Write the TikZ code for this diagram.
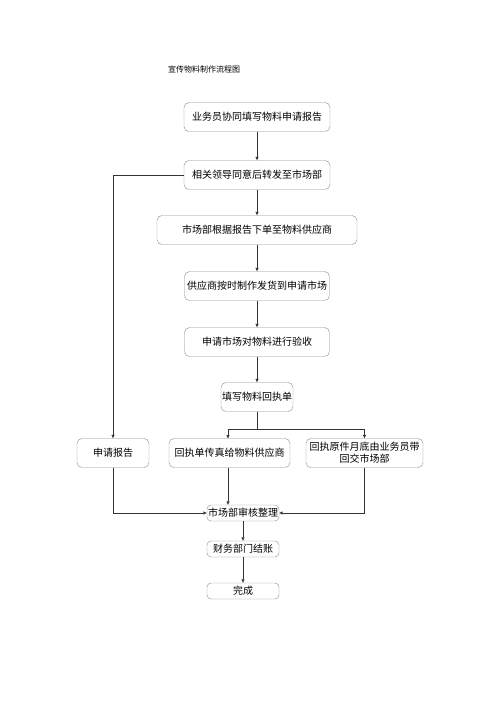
\documentclass[tikz,border=0pt]{standalone}
\usepackage{fontspec}
\setmainfont{Liberation Serif}
\newfontfamily\cjk{Noto Sans CJK SC}
\usetikzlibrary{arrows.meta,positioning,calc}
\tikzset{
>={Triangle[length=3.5pt,width=3pt]},
  stepbox/.style={
    rectangle,
    rounded corners=5pt,
    draw=black!45, thin,
    fill=white,
    font=\cjk\fontsize{10}{12}\selectfont,
    text centered,
    inner sep=1pt},
  bigbox/.style={stepbox, minimum height=29pt},
  smallbox/.style={stepbox, minimum height=16pt, minimum width=72pt, rounded corners=4pt},
  line/.style={draw=black!80, line width=0.6pt, ->},
}
\begin{document}
\begin{tikzpicture}[x=1pt,y=-1pt]
	\useasboundingbox (0,0) rectangle (500,707);
	\node[font=\cjk\fontsize{8}{10}\selectfont] (title) at (204,69) {宣传物料制作流程图};

	% main column
	\node[bigbox, minimum width=146pt] (apply) at (257,117) {业务员协同填写物料申请报告};
	\node[bigbox, minimum width=146pt] (agree) at (257,175) {相关领导同意后转发至市场部};
	\node[bigbox, minimum width=200pt] (order) at (257,230) {市场部根据报告下单至物料供应商};
	\node[bigbox, minimum width=145pt] (ship) at (257,286) {供应商按时制作发货到申请市场};
	\node[bigbox, minimum width=145pt] (check) at (257,342) {申请市场对物料进行验收};
	\node[bigbox, minimum width=72pt] (receipt) at (257,397) {填写物料回执单};

	% branches
	\node[bigbox, minimum width=72pt] (report) at (113,453) {申请报告};
	\node[bigbox, minimum width=121pt] (fax) at (229.5,453) {回执单传真给物料供应商};
	\node[bigbox, minimum width=117pt, text width=113pt, align=center] (orig) at (364.5,453) {回执原件月底由业务员带\\回交市场部};

	% bottom
	\node[smallbox] (audit) at (243,513) {市场部审核整理};
	\node[smallbox] (finance) at (243,549) {财务部门结账};
	\node[smallbox] (done) at (243,591) {完成};

	\path[line] (apply) -- (agree);
	\path[line] (agree) -- (order);
	\path[line] (order) -- (ship);
	\path[line] (ship) -- (check);
	\path[line] (check) -- (receipt);
	\coordinate (split) at ($(receipt.south)+(0,18)$);
	\draw[draw=black!80, line width=0.6pt] (receipt.south) -- (split);
	\path[line] (split) -| (228,438.5);
	\path[line] (split) -| (orig.north);
	\path[line] (agree.west) -| (report.north);
	\path[line] (fax.south -| 228,0) -- (audit.north -| 228,0);
	\path[line] (report.south) |- (audit.west);
	\path[line] (orig.south) |- (audit.east);
	\path[line] (audit) -- (finance);
	\path[line] (finance) -- (done);
\end{tikzpicture}
\end{document}
